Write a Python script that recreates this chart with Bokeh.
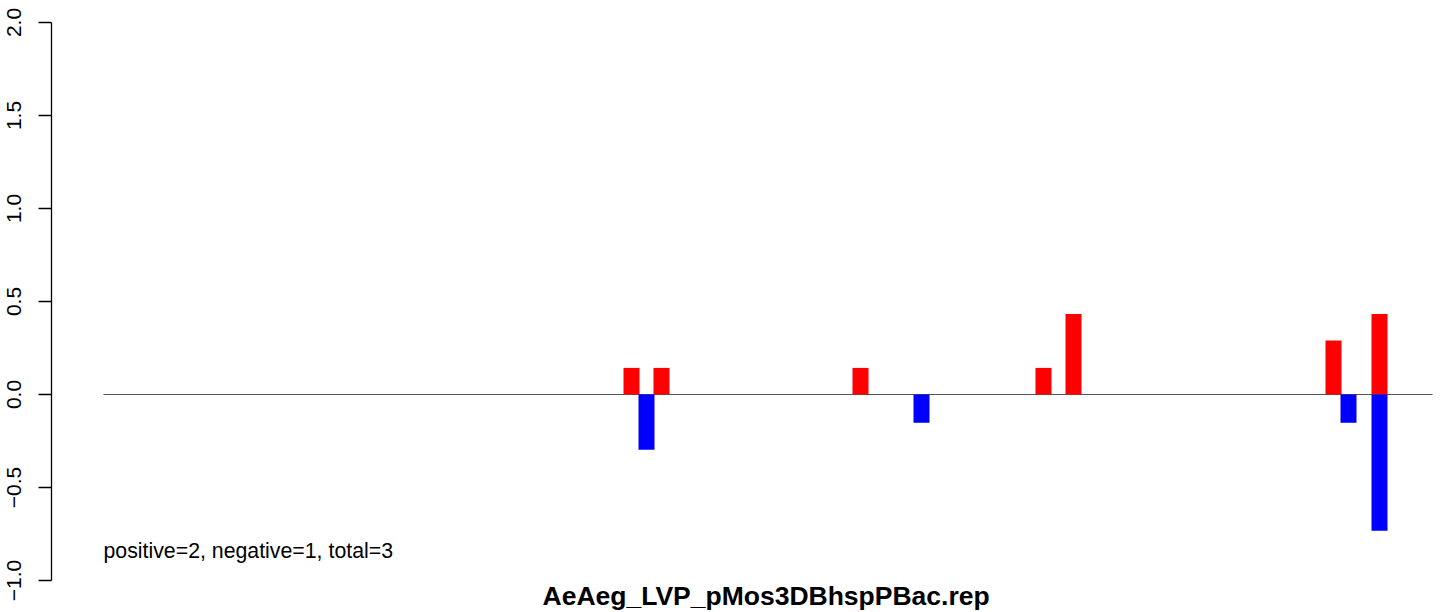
from bokeh.plotting import figure
from bokeh.models import Range1d, FixedTicker, Label, ColumnDataSource, Title
from bokeh.embed import file_html
from bokeh.resources import INLINE

# ---- data ----
title_text = "AeAeg_LVP_pMos3DBhspPBac.rep"
summary_text = "positive=2, negative=1, total=3"
seq_length = 1329
pos_positions = [528, 558, 757, 940, 970, 1230, 1276]
pos_values = [0.143, 0.143, 0.143, 0.143, 0.433, 0.29, 0.433]
neg_positions = [543, 818, 1245, 1276]
neg_values = [-0.297, -0.152, -0.152, -0.733]
y_ticks = [-1.0, -0.5, 0.0, 0.5, 1.0, 1.5, 2.0]
y_tick_labels = ["\u22121.0", "\u22120.5", "0.0", "0.5", "1.0", "1.5", "2.0"]

W, H = 1444, 612
p = figure(width=W, height=H, output_backend="svg", toolbar_location=None,
           x_range=Range1d(-52, 1341), y_range=Range1d(-1.0, 2.0),
           min_border_left=51, min_border_right=0, min_border_top=22,
           min_border_bottom=32)
p.margin = (0, 0, 0, 0)
p.xaxis.visible = False
p.xgrid.visible = False
p.ygrid.visible = False
p.outline_line_color = None
p.background_fill_color = "white"
p.border_fill_color = "white"

ax = p.yaxis[0]
ax.ticker = FixedTicker(ticks=y_ticks)
ax.major_label_overrides = {t: s for t, s in zip(y_ticks, y_tick_labels)}
ax.major_label_orientation = "vertical"
ax.major_label_text_font = "Liberation Sans"
ax.major_label_text_font_size = "21px"
ax.major_label_text_color = "black"
ax.major_label_standoff = 18
ax.major_tick_out = 13
ax.major_tick_in = 0
ax.minor_tick_out = 0
ax.minor_tick_in = 0
ax.axis_line_color = "black"
ax.major_tick_line_color = "black"
ax.axis_line_width = 1.3
ax.major_tick_line_width = 1.3

# zero line
p.line(x=[0, seq_length], y=[0, 0], line_color="#555555", line_width=1)

pos_src = ColumnDataSource(dict(x=pos_positions, top=pos_values))
neg_src = ColumnDataSource(dict(x=neg_positions, top=neg_values))
p.vbar(x="x", top="top", bottom=0, width=16, source=pos_src,
       fill_color="#ff0000", line_color=None)
p.vbar(x="x", top="top", bottom=0, width=16, source=neg_src,
       fill_color="#0000ff", line_color=None)

p.add_layout(Label(x=0, y=-0.84, text=summary_text, text_font="Liberation Sans",
                   text_font_size="21.3px", text_color="black", text_baseline="alphabetic",
                   text_align="left"))

t = Title(text=title_text, text_font="Liberation Sans", text_font_size="26.5px",
          text_font_style="bold", text_color="black", align="left", offset=491,
          standoff=-3)
p.add_layout(t, "below")

open("out.html", "w").write(file_html(p, INLINE))
